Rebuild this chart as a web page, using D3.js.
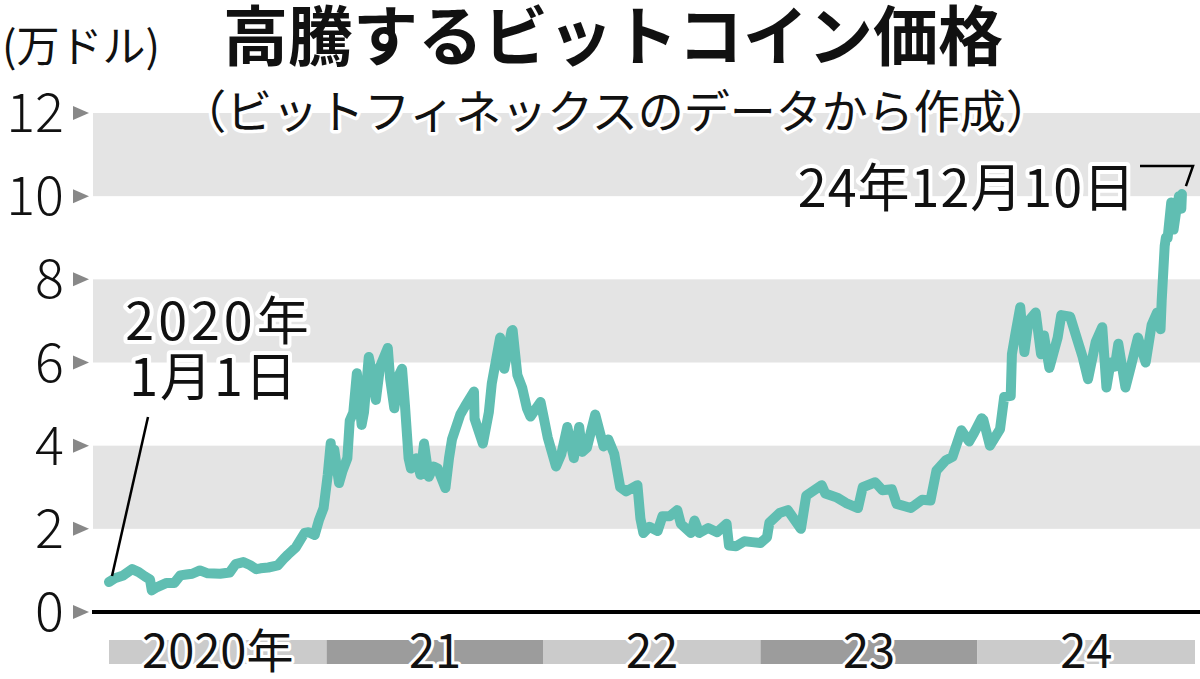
<!DOCTYPE html>
<html>
<head>
<meta charset="utf-8">
<script src="https://cdn.jsdelivr.net/npm/d3@7"></script>
<style>
  html, body { margin: 0; padding: 0; background: #fff; }
  svg { display: block; font-family: "Noto Sans CJK JP", "Noto Sans", sans-serif; }
  .halo { paint-order: stroke; stroke: #fff; stroke-linejoin: round; }
</style>
</head>
<body>
<div id="chart"></div>
<script>
// price of bitcoin, in 10,000 USD (万ドル)
const dates = [
  "2020-01-01","2020-01-12","2020-01-25","2020-02-09","2020-02-20","2020-03-01","2020-03-10","2020-03-13","2020-03-22",
  "2020-04-07","2020-04-20","2020-04-30","2020-05-10","2020-05-20","2020-06-02","2020-06-15","2020-07-06","2020-07-22",
  "2020-08-01","2020-08-14","2020-08-25","2020-09-05","2020-09-12","2020-09-25","2020-10-11","2020-10-21","2020-10-28",
  "2020-11-10","2020-11-25","2020-12-02","2020-12-12","2020-12-19","2020-12-27",
  "2021-01-03","2021-01-08","2021-01-11","2021-01-14","2021-01-22","2021-01-28","2021-02-05","2021-02-09","2021-02-15",
  "2021-02-21","2021-03-01","2021-03-05","2021-03-13","2021-03-18","2021-03-25","2021-04-01","2021-04-14","2021-04-18",
  "2021-04-25","2021-05-03","2021-05-08","2021-05-13","2021-05-19","2021-05-23","2021-06-01","2021-06-08","2021-06-14",
  "2021-06-22","2021-06-30","2021-07-07","2021-07-20","2021-07-26","2021-07-31","2021-08-14","2021-08-22","2021-09-06",
  "2021-09-07","2021-09-21","2021-10-01","2021-10-06","2021-10-20","2021-10-27","2021-11-08","2021-11-10","2021-11-18",
  "2021-11-26","2021-12-04","2021-12-10","2021-12-27",
  "2022-01-01","2022-01-08","2022-01-22","2022-01-31","2022-02-10","2022-02-21","2022-03-02","2022-03-07","2022-03-15",
  "2022-03-29","2022-04-12","2022-04-20","2022-04-30","2022-05-10","2022-05-20","2022-06-08","2022-06-13","2022-06-18",
  "2022-06-28","2022-07-12","2022-07-20","2022-08-01","2022-08-14","2022-08-20","2022-09-06","2022-09-12","2022-09-20",
  "2022-10-05","2022-10-20","2022-11-05","2022-11-09","2022-11-21","2022-12-05","2022-12-18",
  "2023-01-01","2023-01-12","2023-01-16","2023-02-02","2023-02-16","2023-03-10","2023-03-19","2023-04-14","2023-04-20",
  "2023-05-10","2023-05-25","2023-06-14","2023-06-22","2023-07-13","2023-07-25","2023-08-10","2023-08-18","2023-09-11",
  "2023-09-30","2023-10-14","2023-10-24","2023-11-09","2023-11-20","2023-12-05","2023-12-18","2023-12-26",
  "2024-01-08","2024-01-11","2024-01-22","2024-02-08","2024-02-15","2024-02-26","2024-02-28","2024-03-05","2024-03-13",
  "2024-03-20","2024-03-27","2024-04-08","2024-04-17","2024-04-22","2024-05-01","2024-05-15","2024-05-21","2024-06-05",
  "2024-06-18","2024-06-26","2024-07-05","2024-07-18","2024-07-29","2024-08-05","2024-08-12","2024-08-19","2024-08-25",
  "2024-09-06","2024-09-15","2024-09-27","2024-10-10","2024-10-20","2024-10-29","2024-11-04","2024-11-06","2024-11-11",
  "2024-11-13","2024-11-16","2024-11-22","2024-11-26","2024-12-01","2024-12-05","2024-12-09","2024-12-10"
];
const prices = [
  0.72,0.82,0.88,1.03,0.96,0.86,0.78,0.52,0.60,
  0.70,0.70,0.88,0.90,0.92,1.00,0.93,0.92,0.95,
  1.15,1.20,1.13,1.03,1.05,1.07,1.12,1.28,1.38,
  1.55,1.90,1.92,1.85,2.20,2.50,
  3.30,4.06,3.40,3.90,3.10,3.40,3.70,4.60,4.80,
  5.74,4.50,4.80,6.13,5.80,5.10,5.90,6.35,5.60,
  4.90,5.70,5.85,4.95,3.70,3.45,3.70,3.30,4.05,
  3.25,3.50,3.45,2.98,3.70,4.15,4.75,4.95,5.30,
  4.65,4.05,4.80,5.50,6.60,5.85,6.75,6.78,5.70,
  5.40,4.90,4.70,5.05,
  4.70,4.20,3.50,3.80,4.45,3.70,4.45,3.85,3.95,
  4.75,3.98,4.15,3.80,3.00,2.90,3.05,2.25,1.90,
  2.05,1.95,2.30,2.30,2.45,2.12,1.90,2.20,1.90,
  2.02,1.92,2.12,1.60,1.58,1.70,1.68,
  1.66,1.80,2.15,2.38,2.45,2.00,2.80,3.05,2.85,
  2.75,2.62,2.50,3.00,3.12,2.93,2.95,2.60,2.50,
  2.70,2.68,3.40,3.65,3.73,4.37,4.10,4.30,
  4.66,4.62,4.00,4.40,5.17,5.20,6.20,6.70,7.33,
  6.25,7.00,7.20,6.20,6.65,5.87,6.60,7.14,7.10,
  6.50,6.13,5.60,6.50,6.85,5.40,6.00,5.90,6.45,
  5.40,5.90,6.60,6.00,6.90,7.20,6.80,7.50,8.80,
  9.00,9.00,9.85,9.20,9.70,10.00,9.70,10.05
];

const yTicks = [0, 2, 4, 6, 8, 10, 12];
const years = [2020, 2021, 2022, 2023, 2024];
const yearLabels = ["2020年", "21", "22", "23", "24"];

const W = 1200, H = 679;
const svg = d3.select("#chart").append("svg")
  .attr("width", W).attr("height", H);

const parse = d3.timeParse("%Y-%m-%d");
const data = dates.map(function(d, i) { return { date: parse(d), v: prices[i] }; });

const x = d3.scaleTime()
  .domain([new Date(2020, 0, 1), new Date(2025, 0, 1)])
  .range([109, 1195]);
const y = d3.scaleLinear()
  .domain([0, 12])
  .range([612, 113]);

// grey bands every other 2 units
svg.append("g").selectAll("rect")
  .data([2, 6, 10])
  .enter().append("rect")
    .attr("x", 93)
    .attr("width", W - 93)
    .attr("y", function(d) { return y(d + 2); })
    .attr("height", function(d) { return y(d) - y(d + 2); })
    .style("fill", "#e4e4e4");

// y labels + little triangles
const yg = svg.append("g");
yg.selectAll("text")
  .data(yTicks)
  .enter().append("text")
    .attr("x", 64)
    .attr("y", function(d) { return y(d) + 19; })
    .attr("text-anchor", "end")
    .style("font-size", "54px")
    .style("font-weight", 300)
    .style("fill", "#111")
    .text(function(d) { return d; });
yg.selectAll("path")
  .data(yTicks)
  .enter().append("path")
    .attr("d", function(d) { const t = y(d); return "M73," + (t - 7) + "L89," + t + "L73," + (t + 7) + "Z"; })
    .style("fill", "#888");

// baseline
svg.append("line")
  .attr("x1", 92).attr("x2", W)
  .attr("y1", y(0)).attr("y2", y(0))
  .attr("stroke", "#000").attr("stroke-width", 4);

// year strip
const yr = svg.append("g");
yr.selectAll("rect")
  .data(years)
  .enter().append("rect")
    .attr("x", function(d) { return x(new Date(d, 0, 1)); })
    .attr("width", function(d) { return x(new Date(d + 1, 0, 1)) - x(new Date(d, 0, 1)); })
    .attr("y", 640).attr("height", 24)
    .style("fill", function(d, i) { return i % 2 ? "#9c9c9c" : "#cbcbcb"; });
yr.selectAll("text")
  .data(years)
  .enter().append("text")
    .attr("class", "halo")
    .attr("x", function(d) { return (x(new Date(d, 0, 1)) + x(new Date(d + 1, 0, 1))) / 2; })
    .attr("y", 668)
    .attr("text-anchor", "middle")
    .style("font-size", "47px")
    .style("stroke-width", 6)
    .style("fill", "#111")
    .text(function(d, i) { return yearLabels[i]; });

// price line
svg.append("path")
  .datum(data)
  .attr("fill", "none")
  .attr("stroke", "#60beb2")
  .attr("stroke-width", 10)
  .attr("stroke-linejoin", "round")
  .attr("stroke-linecap", "round")
  .attr("d", d3.line()
    .x(function(d) { return x(d.date); })
    .y(function(d) { return y(d.v); }));

// titles
svg.append("text")
  .attr("x", 613).attr("y", 60)
  .attr("text-anchor", "middle")
  .style("font-size", "65px").style("font-weight", 700)
  .style("fill", "#111")
  .text("高騰するビットコイン価格");
svg.append("text")
  .attr("class", "halo")
  .attr("x", 616).attr("y", 128)
  .attr("text-anchor", "middle")
  .style("font-size", "46px").style("stroke-width", 7)
  .style("fill", "#111")
  .text("（ビットフィネックスのデータから作成）");
svg.append("text")
  .attr("x", 2).attr("y", 62)
  .style("font-size", "43px")
  .style("fill", "#111")
  .text("(万ドル)");

// annotations
const first = data[0], last = data[data.length - 1];
const ann = svg.append("g").style("font-size", "52px").style("fill", "#111");
ann.append("text").attr("class", "halo").style("stroke-width", 8)
  .attr("x", 219).attr("y", 340).attr("text-anchor", "middle")
  .style("letter-spacing", "4px").text("2020年");
ann.append("text").attr("class", "halo").style("stroke-width", 8)
  .attr("x", 214).attr("y", 396).attr("text-anchor", "middle")
  .style("letter-spacing", "2px").text("1月1日");
ann.append("text").attr("class", "halo").style("stroke-width", 8)
  .attr("x", 1136).attr("y", 207).attr("text-anchor", "end")
  .style("letter-spacing", "1px").text("24年12月10日");

svg.append("line")
  .attr("x1", 148).attr("y1", 417)
  .attr("x2", x(first.date) + 3).attr("y2", y(first.v) - 6)
  .attr("stroke", "#000").attr("stroke-width", 2.5);
svg.append("path")
  .attr("d", "M1140,166L1193,166L" + (x(last.date) + 4) + "," + (y(last.v) - 8))
  .attr("fill", "none")
  .attr("stroke", "#000").attr("stroke-width", 2.5);
</script>
</body>
</html>
